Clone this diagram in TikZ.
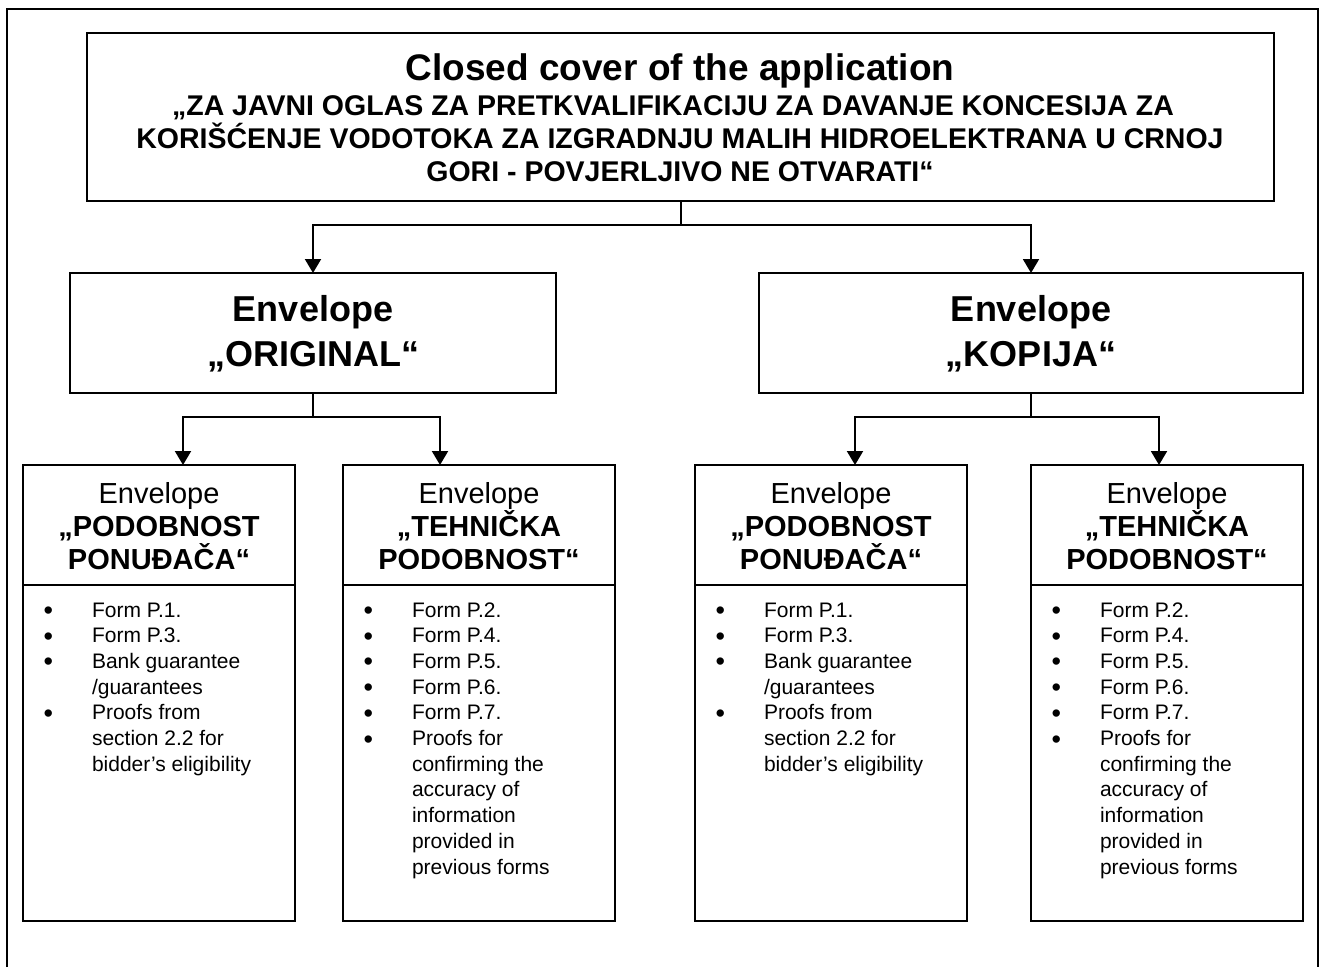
\documentclass[tikz,border=0pt]{standalone}
\usepackage{fontspec}
\setmainfont{Liberation Sans}
\usetikzlibrary{arrows.meta}
\tikzset{
  box/.style={draw, line width=2pt, inner sep=0pt, outer sep=0pt, rectangle},
  arr/.style={line width=2pt, -{Triangle[width=16pt,length=14pt]}},
  ln/.style={line width=2pt},
  lbl/.style={anchor=base, inner sep=0pt, outer sep=0pt},
  ttlf/.style={font=\fontsize{37}{40}\selectfont\bfseries},
  subf/.style={font=\fontsize{28.5}{32}\selectfont\bfseries},
  envf/.style={font=\fontsize{36}{40}\selectfont\bfseries},
  hdrf/.style={font=\fontsize{29}{33}\selectfont},
  hdrb/.style={font=\fontsize{29}{33}\selectfont\bfseries},
  itm/.style={anchor=base west, inner sep=0pt, outer sep=0pt, font=\fontsize{21}{25}\selectfont},
  bul/.style={anchor=base west, inner sep=0pt, outer sep=0pt, font=\fontsize{27}{30}\selectfont},
}
\newcommand\myheader[4]{%
  \node[lbl,hdrf] (#2a) at (#1,503) {Envelope};
  \node[lbl,hdrb] (#2b) at (#1,536) {#3};
  \node[lbl,hdrb] (#2c) at (#1,569) {#4};
}
\newcommand\mylistA[2]{%
  \foreach \k/\t [count=\i] in {1/Form P.1., 1/Form P.3., 1/Bank guarantee, 0/{/guarantees}, 1/Proofs from, 0/section 2.2 for, 0/bidder’s eligibility}{
    \node[itm] (#2-\i) at ({#1+69}, {617+25.7*(\i-1)}) {\t};
    \ifnum\k=1 \node[bul] (#2-b\i) at ({#1+20.5}, {619.5+25.7*(\i-1)}) {•};\fi
  }%
}
\newcommand\mylistB[2]{%
  \foreach \k/\t [count=\i] in {1/Form P.2., 1/Form P.4., 1/Form P.5., 1/Form P.6., 1/Form P.7., 1/Proofs for, 0/confirming the, 0/accuracy of, 0/information, 0/provided in, 0/previous forms}{
    \node[itm] (#2-\i) at ({#1+69}, {617+25.7*(\i-1)}) {\t};
    \ifnum\k=1 \node[bul] (#2-b\i) at ({#1+20.5}, {619.5+25.7*(\i-1)}) {•};\fi
  }%
}
\begin{document}
\begin{tikzpicture}[x=1pt, y=-1pt]
\useasboundingbox (0,0) rectangle (1321,967);
\fill[white] (0,0) rectangle (1321,967);
% outer frame
\draw[ln] (7,967) -- (7,9) -- (1318,9) -- (1318,967);

% top box
\node[box, minimum width=1187pt, minimum height=168pt] (top) at (680.5,117) {};
\node[lbl,ttlf] (ttl) at (680,80) {Closed cover of the application};
\node[lbl,subf] (s1) at (673,115) {„ZA JAVNI OGLAS ZA PRETKVALIFIKACIJU ZA DAVANJE KONCESIJA ZA};
\node[lbl,subf] (s2) at (680,148) {KORIŠĆENJE VODOTOKA ZA IZGRADNJU MALIH HIDROELEKTRANA U CRNOJ};
\node[lbl,subf] (s3) at (680,181) {GORI - POVJERLJIVO NE OTVARATI“};

% second level
\node[box, minimum width=486pt, minimum height=120pt] (orig) at (313,333) {};
\node[lbl,envf] (o1) at (313,321) {Envelope};
\node[lbl,envf] (o2) at (313,366) {„ORIGINAL“};
\node[box, minimum width=544pt, minimum height=120pt] (kop) at (1031,333) {};
\node[lbl,envf] (k1) at (1031,321) {Envelope};
\node[lbl,envf] (k2) at (1031,366) {„KOPIJA“};

% third level: headers and bodies
\node[box, minimum width=272pt, minimum height=120pt] (h1) at (159,525) {};
\node[box, minimum width=272pt, minimum height=336pt] (d1) at (159,753) {};
\node[box, minimum width=272pt, minimum height=120pt] (h2) at (479,525) {};
\node[box, minimum width=272pt, minimum height=336pt] (d2) at (479,753) {};
\node[box, minimum width=272pt, minimum height=120pt] (h3) at (831,525) {};
\node[box, minimum width=272pt, minimum height=336pt] (d3) at (831,753) {};
\node[box, minimum width=272pt, minimum height=120pt] (h4) at (1167,525) {};
\node[box, minimum width=272pt, minimum height=336pt] (d4) at (1167,753) {};

\myheader{159}{ha}{„PODOBNOST}{PONUĐAČA“}
\myheader{479}{hb}{„TEHNIČKA}{PODOBNOST“}
\myheader{831}{hc}{„PODOBNOST}{PONUĐAČA“}
\myheader{1167}{hd}{„TEHNIČKA}{PODOBNOST“}

\mylistA{23}{la}
\mylistB{343}{lb}
\mylistA{695}{lc}
\mylistB{1031}{ld}

% connectors
\coordinate (j1) at ([yshift=-24pt]top.south);
\draw[ln] (top.south) -- (j1);
\draw[arr] (j1) -| (orig.north);
\draw[arr] (j1) -| (kop.north);

\coordinate (j2) at ([yshift=-24pt]orig.south);
\draw[ln] (orig.south) -- (j2);
\draw[arr] (j2) -| ([xshift=24pt]h1.north);
\draw[arr] (j2) -| ([xshift=-39pt]h2.north);

\coordinate (j3) at ([yshift=-24pt]kop.south);
\draw[ln] (kop.south) -- (j3);
\draw[arr] (j3) -| ([xshift=24pt]h3.north);
\draw[arr] (j3) -| ([xshift=-8pt]h4.north);
\end{tikzpicture}
\end{document}
